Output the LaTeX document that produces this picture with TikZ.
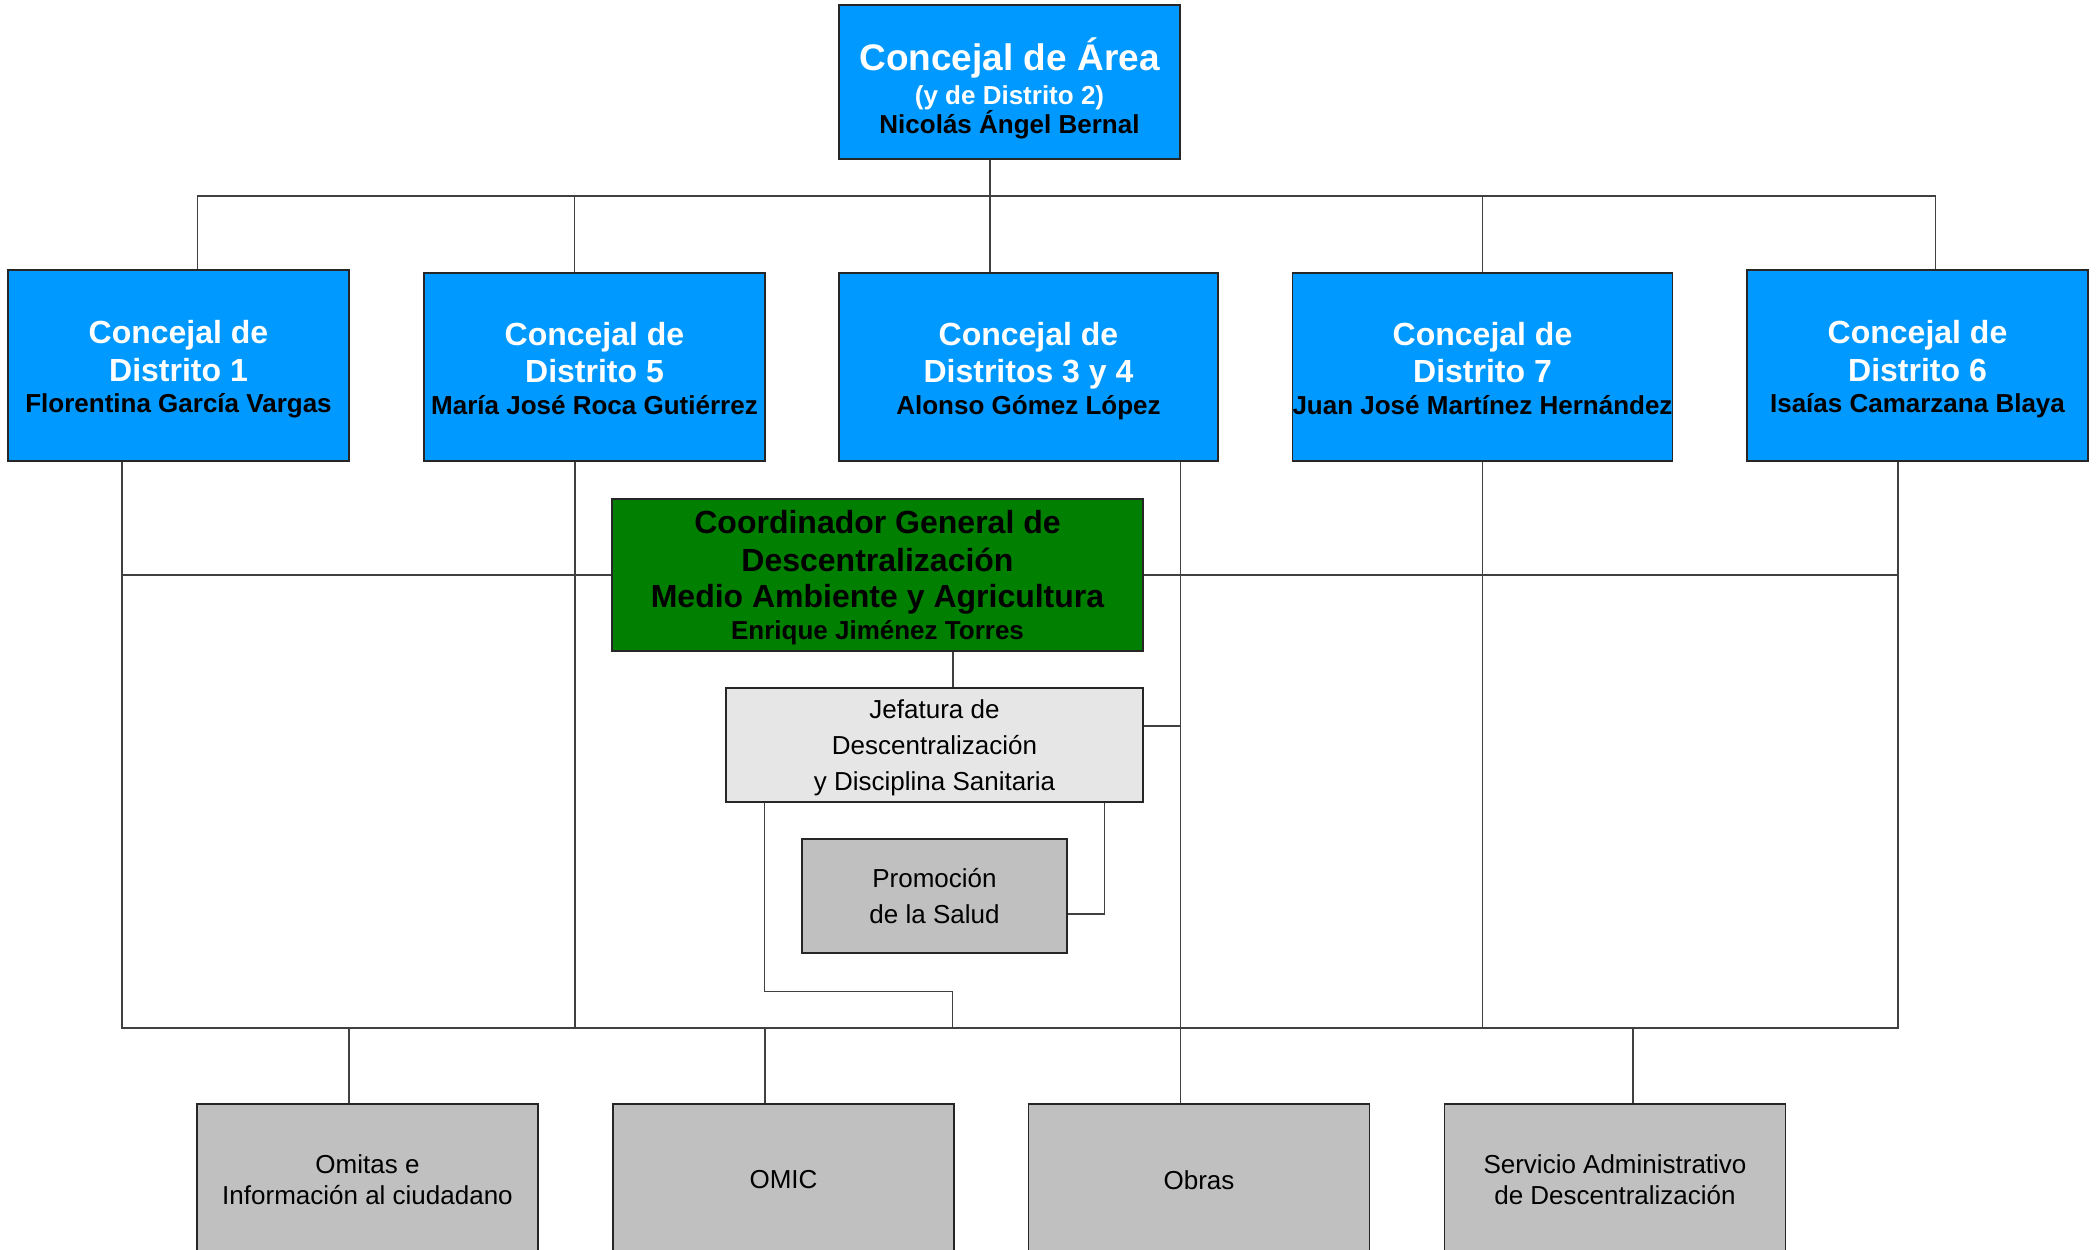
\documentclass[tikz,border=0pt]{standalone}
\usepackage{fontspec}
\setmainfont{Liberation Sans}
\usepackage{tikz}

\definecolor{azul}{RGB}{0,153,255}
\definecolor{verde}{RGB}{0,127,0}
\definecolor{claro}{RGB}{230,230,230}
\definecolor{gris}{RGB}{192,192,192}
\definecolor{linea}{RGB}{64,64,64}
\newcommand{\grande}{\fontsize{32}{30}\selectfont}
\newcommand{\sinp}[1]{\raisebox{0pt}[\height][0pt]{#1}}
\newcommand{\alto}[1]{\raisebox{0pt}[\dimexpr\height+2.5pt\relax]{\grande #1}}

\begin{document}
\begin{tikzpicture}[x=1pt,y=-1pt,
	caja/.style={draw=black!85,line width=1.3pt,align=center,inner sep=0pt,font=\fontsize{26}{31}\selectfont},
	concejal/.style={caja,fill=azul,text=white,minimum width=341pt,minimum height=188pt,font=\fontsize{26}{30}\bfseries\selectfont},
	unidad/.style={caja,fill=gris,minimum width=341pt,minimum height=152pt},
	enlace/.style={draw=linea,line width=1.3pt}]
		\useasboundingbox (0,0) rectangle (2096,1250);
		\clip (0,0) rectangle (2096,1250);
		
		\node[concejal,minimum height=154pt] (top) at (1009.5,82) {\raisebox{0pt}[40.7pt]{\fontsize{37}{30}\selectfont Concejal de Área}\\[4pt](y de Distrito 2)\\[-1pt]\sinp{\color{black}Nicolás Ángel Bernal}};
		\node[concejal,minimum height=191pt] (d1) at (178.5,365.5) {\alto{Concejal de}\\[7.5pt]{\grande Distrito 1}\\[1.3pt]\sinp{\color{black}Florentina García Vargas}};
		\node[concejal] (d5) at (594.5,367) {\alto{Concejal de}\\[7.5pt]{\grande Distrito 5}\\[1.3pt]\sinp{\color{black}María José Roca Gutiérrez}};
		\node[concejal,minimum width=379pt] (d34) at (1028.5,367) {\alto{Concejal de}\\[7.5pt]{\grande Distritos 3 y 4}\\[1.3pt]\sinp{\color{black}Alonso Gómez López}};
		\node[concejal,minimum width=379pt] (d7) at (1482.5,367) {\alto{Concejal de}\\[7.5pt]{\grande Distrito 7}\\[1.3pt]\sinp{\color{black}Juan José Martínez Hernández}};
		\node[concejal,minimum height=191pt] (d6) at (1917.5,365.5) {\alto{Concejal de}\\[7.5pt]{\grande Distrito 6}\\[1.3pt]\sinp{\color{black}Isaías Camarzana Blaya}};
		
		\node[caja,fill=verde,minimum width=531pt,minimum height=152pt,font=\fontsize{26}{32}\bfseries\selectfont] (coord) at (877.5,575) {{\grande Coordinador General de}\\[5.4pt]{\grande Descentralización}\\[4pt]{\grande Medio Ambiente y Agricultura}\\\sinp{Enrique Jiménez Torres}};
		\node[caja,fill=claro,minimum width=417pt,minimum height=114pt,font=\fontsize{26}{36}\selectfont] (jef) at (934.5,745) {Jefatura de\\Descentralización\\\sinp{y Disciplina Sanitaria}};
		\node[caja,fill=gris,minimum width=265pt,minimum height=114pt,font=\fontsize{26}{36.6}\selectfont] (promo) at (934.5,896) {Promoción\\de la Salud};
		
		\node[unidad] (omitas) at (367.5,1180) {Omitas e\\Información al ciudadano};
		\node[unidad] (omic) at (783.5,1180) {OMIC};
		\node[unidad] (obras) at (1199,1180) {Obras};
		\node[unidad] (serv) at (1615,1180) {Servicio Administrativo\\de Descentralización};
		
		\coordinate (busT) at (990,196);
		\coordinate (busL) at (122,1028);
		\coordinate (busR) at (1898,1028);
		\coordinate (midL) at (122,575);
		\coordinate (midR) at (1898,575);
		\coordinate (x34) at ([xshift=-38pt]d34.south east);
		
		\draw[enlace] (busT |- top.south) -- (busT);
		\draw[enlace] (busT) -| ([xshift=190pt]d1.north west);
		\draw[enlace] (busT) -| ([xshift=151pt]d5.north west);
		\draw[enlace] (busT) -- (busT |- d34.north);
		\draw[enlace] (busT) -| (d7.north);
		\draw[enlace] (busT) -| ([xshift=189pt]d6.north west);
		
		\draw[enlace] (busL |- d1.south) -- (busL) -- (busR) -- (busR |- d6.south);
		\draw[enlace] ([xshift=-19.5pt]d5.south) -- ++(0,567);
		\draw[enlace] (d7.south) -- (d7.south |- busL);
		\draw[enlace] (x34) -- (x34 |- obras.north);
		\draw[enlace] (midL) -- (coord.west);
		\draw[enlace] (coord.east) -- (midR);
		
		\draw[enlace] ([xshift=75.5pt]coord.south) -- ([xshift=18.5pt]jef.north);
		\draw[enlace] ([yshift=19pt]jef.east) -- ++(37,0);
		\draw[enlace] ([xshift=-39pt]jef.south east) |- ([yshift=-18pt]promo.east);
		\draw[enlace] ([xshift=39pt]jef.south west) -- ++(0,189) -- ++(188,0) -- ++(0,37);
		
		\draw[enlace] ([xshift=-18.5pt]omitas.north) -- ++(0,-76);
		\draw[enlace] ([xshift=-18.5pt]omic.north) -- ++(0,-76);
		\draw[enlace] ([xshift=18pt]serv.north) -- ++(0,-76);
\end{tikzpicture}
\end{document}
